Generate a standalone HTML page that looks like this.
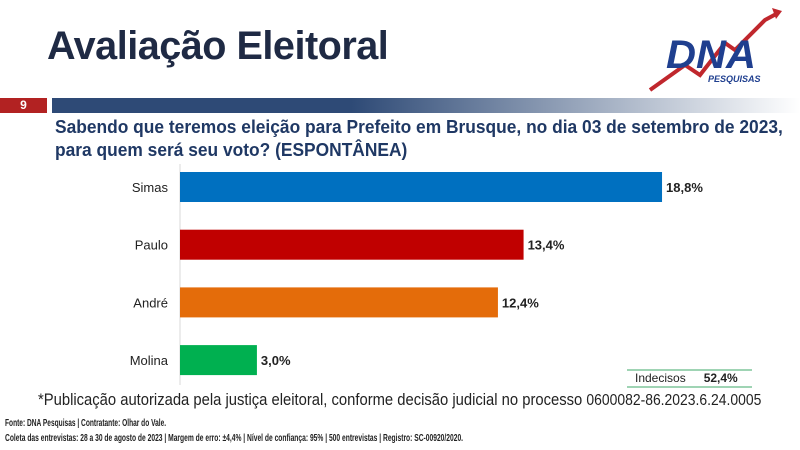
<!DOCTYPE html>
<html><head><meta charset="utf-8">
<style>
body{margin:0;width:800px;height:450px;background:#fff;position:relative;overflow:hidden;font-family:"Liberation Sans",sans-serif;}
.abs{position:absolute;white-space:nowrap;}
.sq{transform-origin:left top;}
</style></head><body>
<div class="abs sq" style="left:47px;top:24px;font-size:40px;font-weight:bold;color:#1f2a44;letter-spacing:-0.5px;transform:scaleX(0.99);">Avaliação Eleitoral</div>
<svg class="abs" style="left:640px;top:5px" width="145" height="90">
<polyline points="10,85 45,60 60,70 85,38 95,45 125,15 138,8" fill="none" stroke="#c0272d" stroke-width="4"/>
<polygon points="132,3 142,6 136,14" fill="#c0272d"/>
<text x="26" y="63" font-family="Liberation Sans" font-weight="bold" font-style="italic" font-size="40" fill="#1f3f8f" textLength="90" lengthAdjust="spacingAndGlyphs">DNA</text>
<text x="68" y="77" font-family="Liberation Sans" font-weight="bold" font-style="italic" font-size="9" fill="#1f3f8f">PESQUISAS</text>
</svg>
<div class="abs" style="left:0;top:98px;width:47px;height:15px;background:#b22222;color:#fff;font-size:12px;font-weight:bold;text-align:center;line-height:15px;">9</div>
<div class="abs" style="left:52px;top:98px;width:748px;height:15px;background:linear-gradient(to right,#2e4a76 0%,#2e4a76 40%,#fff 100%);"></div>
<div class="abs sq" style="left:55px;top:116px;font-size:18px;font-weight:bold;color:#1f3864;line-height:23px;transform:scaleX(0.965);">Sabendo que teremos eleição para Prefeito em Brusque, no dia 03 de setembro de 2023,<br>para quem será seu voto? (ESPONTÂNEA)</div>
<svg class="abs" id="chart" style="left:0;top:0" width="800" height="400"></svg>
<div class="abs" style="left:627px;top:369px;width:125px;height:15px;border-top:2px solid #9fd4b4;border-bottom:2px solid #9fd4b4;font-size:12px;line-height:15px;color:#222;">
<span style="margin-left:8px">Indecisos</span><span style="margin-left:18px;font-weight:bold">52,4%</span></div>
<div class="abs sq" style="left:38px;top:390px;font-size:17px;color:#222;transform:scaleX(0.87);">*Publicação autorizada pela justiça eleitoral, conforme decisão judicial no processo <span style="font-size:16px">0600082-86.2023.6.24.0005</span></div>
<div class="abs sq" style="left:5px;top:418px;font-size:10px;font-weight:bold;color:#222;transform:scaleX(0.66);">Fonte: DNA Pesquisas | Contratante: Olhar do Vale.</div>
<div class="abs sq" style="left:5px;top:433px;font-size:10px;font-weight:bold;color:#222;transform:scaleX(0.67);">Coleta das entrevistas: 28 a 30 de agosto de 2023 | Margem de erro: ±4,4% | Nível de confiança: 95% | 500 entrevistas | Registro: SC-00920/2020.</div>
<script>
const categories=["Simas","Paulo","André","Molina"];
const values=[18.8,13.4,12.4,3.0];
const labels=["18,8%","13,4%","12,4%","3,0%"];
const colors=["#0070c0","#c00000","#e46c0a","#00b050"];
const svg=document.getElementById('chart');
const NS="http://www.w3.org/2000/svg";
const x0=180,pxPer=25.64,y0=172,step=57.7,bh=30;
function xs(v){return x0+v*pxPer;}
function yb(i){return y0+i*step;}
const ax=document.createElementNS(NS,'line');
ax.setAttribute('x1',x0);ax.setAttribute('x2',x0);ax.setAttribute('y1',164);ax.setAttribute('y2',385);
ax.setAttribute('stroke','#d9d9d9');


svg.appendChild(ax);
categories.forEach((c,i)=>{
 const r=document.createElementNS(NS,'rect');
 r.setAttribute('x',x0);r.setAttribute('y',yb(i));r.setAttribute('width',xs(values[i])-x0);r.setAttribute('height',bh);r.setAttribute('fill',colors[i]);
 
 
 svg.appendChild(r);
 const t=document.createElementNS(NS,'text');
 t.setAttribute('x',x0-12);t.setAttribute('y',yb(i)+bh/2+5);t.setAttribute('text-anchor','end');
 t.setAttribute('font-family','Liberation Sans, sans-serif');t.setAttribute('font-size','13');t.setAttribute('fill','#222');
 t.textContent=c;
 
 
 svg.appendChild(t);
 const v=document.createElementNS(NS,'text');
 v.setAttribute('x',xs(values[i])+4);v.setAttribute('y',yb(i)+bh/2+5);
 v.setAttribute('font-family','Liberation Sans, sans-serif');v.setAttribute('font-size','13');v.setAttribute('font-weight','bold');v.setAttribute('fill','#222');
 v.textContent=labels[i];
 
 
 svg.appendChild(v);
});
</script>
</body></html>
